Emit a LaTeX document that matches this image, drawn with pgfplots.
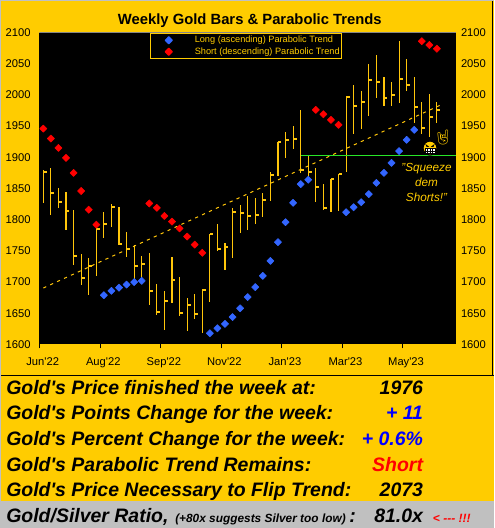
\documentclass[border=0pt]{standalone}
\usepackage{fontspec}
\usepackage{pgfplots}
\usepackage{pgfplotstable}
\pgfplotsset{compat=1.18}
\setmainfont{Liberation Sans}
\newfontfamily\emojifont{Noto Emoji}
\definecolor{gold}{RGB}{255,204,0}
\definecolor{barcol}{RGB}{255,198,10}
\definecolor{longblue}{RGB}{51,102,255}
\definecolor{shortred}{RGB}{255,0,0}
\definecolor{panelgrey}{RGB}{192,192,192}
\definecolor{flatgreen}{RGB}{40,230,40}
\newcommand{\ap}{\textquotesingle}

% close tick on the right side of each bar
\pgfdeclareplotmark{closetick}{%
  \pgfpathrectangle{\pgfpoint{0pt}{-0.75pt}}{\pgfpoint{2.6pt}{1.5pt}}%
  \pgfusepathqfill}

% marker placed well inside the legend box
\pgfplotsset{wide legend/.style={legend image code/.code={%
  \path[draw=none,fill=none] (0pt,0pt) -- (32pt,0pt);
  \draw[##1,only marks] plot coordinates {(13.5pt,0pt)};}}}

% week, high, low, close
\pgfplotstableread{
i high low close
0 1880 1827 1876
1 1883 1808 1843
2 1851 1819 1828
3 1844 1784 1814
4 1816 1727 1742
5 1745 1695 1707
6 1739 1679 1726
7 1785 1710 1785
8 1812 1771 1793
9 1825 1788 1821
10 1820 1759 1761
11 1780 1740 1753
12 1759 1701 1725
13 1742 1697 1729
14 1747 1663 1686
15 1697 1647 1652
16 1686 1623 1670
17 1740 1667 1703
18 1708 1646 1650
19 1675 1622 1663
20 1681 1641 1649
21 1687 1618 1687
22 1777 1668 1777
23 1793 1750 1753
24 1763 1719 1756
25 1819 1739 1812
26 1824 1779 1811
27 1838 1783 1806
28 1835 1793 1808
29 1843 1804 1832
30 1876 1830 1872
31 1925 1870 1925
32 1941 1899 1928
33 1950 1913 1929
34 1976 1875 1880
35 1902 1864 1876
36 1883 1828 1852
37 1857 1816 1819
38 1865 1812 1865
39 1874 1814 1874
40 1996 1876 1996
41 2016 1937 1982
42 2006 1945 1988
43 2050 1966 2024
44 2064 1995 2020
45 2029 1982 1995
46 2021 1982 2000
47 2086 1987 2026
48 2058 2006 2016
49 2029 1955 1981
50 1989 1937 1947
51 2001 1933 1965
52 1989 1955 1976
}\goldbars

\begin{document}
\begin{tikzpicture}[x=0.75pt,y=0.75pt]
\useasboundingbox (0,0) rectangle (494,528);
\fill[gold] (0,0) rectangle (494,528);
\fill[panelgrey] (0,0) rectangle (494,26.5);
\draw[black,line width=0.75pt] (0,152.8) -- (494,152.8);
\draw[black,line width=0.75pt] (492.8,152.8) -- (492.8,528);
\draw[panelgrey,line width=1.5pt] (0,528) -- (494,528);
\draw[panelgrey,line width=1.5pt] (0,0) -- (0,528);

\begin{axis}[
  at={(29.475pt,137.625pt)},anchor=south west,
  scale only axis,width=312.75pt,height=234pt,
  xmin=-0.53,xmax=54.56,ymin=1600,ymax=2100,
  axis background/.style={fill=black},
  axis line style={draw=none},
  xtick={-0.5,7.5,15.5,23.5,31.5,39.5,47.5},
  xticklabels={Jun\ap22,Aug\ap22,Sep\ap22,Nov\ap22,Jan\ap23,Mar\ap23,May\ap23},
  xticklabel style={font=\fontsize{8.4pt}{10pt}\selectfont,xshift=2.4pt,yshift=-3pt},
  ytick={1600,1650,...,2100},
  yticklabel style={font=\fontsize{8.4pt}{10pt}\selectfont},
  /pgf/number format/assume math mode=true,
  /pgf/number format/1000 sep={},
  tick style={black,line width=0.75pt},
  tick align=outside,
  xtick pos=bottom,ytick pos=left,
  major tick length=3pt,
  ytick style={draw=none},
  title={\fontsize{11.1pt}{13pt}\selectfont\bfseries Weekly Gold Bars \& Parabolic Trends},
  title style={at={(0.5,1)},yshift=-6pt,xshift=1.5pt},
  legend style={at={(0.2645,0.998)},anchor=north west,fill=black,draw=gold,text=gold,
    font=\fontsize{6.9pt}{8pt}\selectfont,line width=0.75pt,row sep=1.6pt,
    inner xsep=0.5pt,inner ysep=1.5pt,
    nodes={inner ysep=0pt,inner xsep=1pt,text height=5.5pt,text depth=1.5pt}},
  legend cell align=left,
]
\draw[panelgrey!70!black,line width=0.75pt] (rel axis cs:0,1) -- (rel axis cs:1,1);

\addplot[forget plot,barcol,line width=0.85pt,mark=closetick,only marks,
  error bars/.cd,y dir=both,y explicit,error mark=none,
  error bar style={barcol,line width=0.85pt}]
  table[x=i,y=close,y error plus expr=\thisrow{high}-\thisrow{close},
        y error minus expr=\thisrow{close}-\thisrow{low}] {\goldbars};

% trend line through the bars
\addplot[forget plot,barcol,line width=0.75pt,dash pattern=on 2.4pt off 3.3pt]
  coordinates {(0,1690.5) (52.7,1985)};

% flat line at the green level
\addplot[forget plot,flatgreen,line width=0.75pt] coordinates {(34,1903) (54.56,1903)};

\addplot[only marks,wide legend,mark=diamond*,mark size=2.7pt,longblue,mark options={xscale=1.33,line join=round}]
  coordinates {
  (8,1679)(9,1686)(10,1691)(11,1696)(12,1700)(13,1702)
  (22,1618)(23,1626)(24,1633)(25,1644)(26,1658)(27,1676)
  (28,1692)(29,1710)(30,1734)(31,1764)(32,1796)(33,1827)(34,1857)(35,1864)
  (40,1812)(41,1820)(42,1828)(43,1841)(44,1859)(45,1875)(46,1891)(47,1910)(48,1928)(49,1944)
  };
\addlegendentry{Long (ascending) Parabolic Trend}

\addplot[only marks,wide legend,mark=diamond*,mark size=2.7pt,shortred,mark options={xscale=1.33,line join=round}]
  coordinates {
  (0,1946)(1,1930)(2,1915)(3,1899)(4,1875)(5,1846)(6,1816)(7,1792)
  (14,1826)(15,1819)(16,1806)(17,1797)(18,1786)(19,1773)(20,1760)(21,1747)
  (36,1976)(37,1969)(38,1960)(39,1952)
  (50,2086)(51,2080)(52,2074)
  };
\addlegendentry{Short (descending) Parabolic Trend}
\end{axis}

% right hand price scale
\begin{axis}[
  at={(29.475pt,137.625pt)},anchor=south west,
  scale only axis,width=312.75pt,height=234pt,
  xmin=-0.53,xmax=54.56,ymin=1600,ymax=2100,
  axis line style={draw=none},
  xtick=\empty,
  ytick={1600,1650,...,2100},
  ytick pos=right,yticklabel pos=right,
  ytick style={draw=none},
  major tick length=3pt,
  yticklabel style={font=\fontsize{8.4pt}{10pt}\selectfont},
  /pgf/number format/assume math mode=true,
  /pgf/number format/1000 sep={},
]
\end{axis}

% annotation
\node[text=gold,align=center,font=\fontsize{8.8pt}{11pt}\selectfont\itshape] at (426.5,345.5)
  {"Squeeze\\dem\\Shorts!"};

% grin
\begin{scope}[shift={(430,380)}]
\fill[gold,draw=black,line width=0.9pt] (0,0) circle (7);
\fill[white,draw=black,line width=0.5pt] (-5,-0.6) rectangle (5,-5);
\foreach \xx in {-2.5,0,2.5}\draw[black,line width=0.4pt] (\xx,-0.6) -- (\xx,-5);
\draw[black,line width=0.4pt] (-5,-2.8) -- (5,-2.8);
\fill[black] (-4.6,4) -- (-0.8,1.2) -- (-3.4,1) -- cycle;
\fill[black] (4.6,4) -- (0.8,1.2) -- (3.4,1) -- cycle;
\end{scope}
\node[text=gold,inner sep=0pt,font=\fontsize{11pt}{12pt}\emojifont] at (443,391) {🤘};

% summary rows
\tikzset{rowtxt/.style={anchor=base west,inner sep=0pt,font=\fontsize{14.6pt}{17pt}\selectfont\bfseries\itshape},
  rowval/.style={anchor=base east,inner sep=0pt,font=\fontsize{14.6pt}{17pt}\selectfont\bfseries\itshape}}
\node[rowtxt] at (6,133.5) {Gold\ap s Price finished the week at:};
\node[rowval] at (423.3,133.5) {1976};
\node[rowtxt] at (6,108) {Gold\ap s Points Change for the week:};
\node[rowval,text=blue] at (423.3,108) {+ 11};
\node[rowtxt] at (6,82) {Gold\ap s Percent Change for the week:};
\node[rowval,text=blue] at (423.3,82) {+ 0.6\%};
\node[rowtxt] at (6,56) {Gold\ap s Parabolic Trend Remains:};
\node[rowval,text=shortred] at (423.3,56) {Short};
\node[rowtxt] at (6,31.5) {Gold\ap s Price Necessary to Flip Trend:};
\node[rowval] at (423.3,31.5) {2073};
\node[rowtxt] at (6,6) {Gold/Silver Ratio,};
\node[anchor=base west,inner sep=0pt,font=\fontsize{8.9pt}{10pt}\selectfont\bfseries\itshape] at (175,6) {(+80x suggests Silver too low)};
\node[rowtxt] at (349,6) {:};
\node[rowval] at (423.3,6) {81.0x};
\node[anchor=base west,inner sep=0pt,text=shortred,font=\fontsize{9pt}{10pt}\selectfont\bfseries\itshape] at (432.7,6) {< -{}-{}- !!!};
\end{tikzpicture}
\end{document}
